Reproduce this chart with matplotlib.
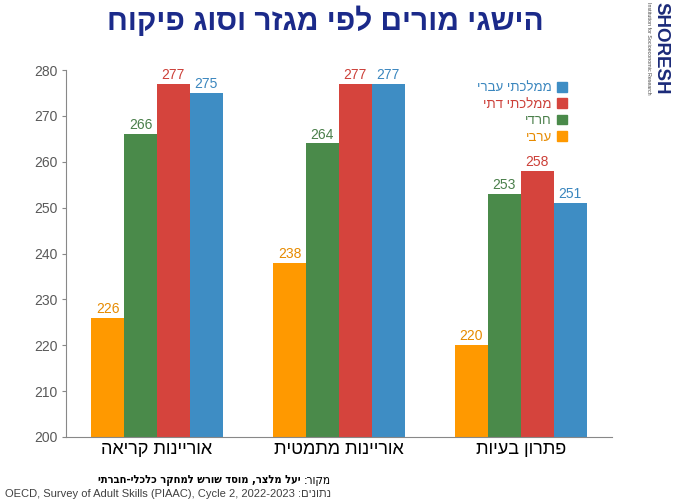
import numpy as np
import matplotlib
matplotlib.use('Agg')
import matplotlib.pyplot as plt
from matplotlib.patches import Patch

plt.rcParams['font.family'] = ['Liberation Sans', 'DejaVu Sans']

# data
categories = ['אוריינות קריאה', 'אוריינות מתמטית', 'פתרון בעיות']
series = ['ערבי', 'חרדי', 'ממלכתי דתי', 'ממלכתי עברי']
values = {
    'ערבי': [226, 238, 220],
    'חרדי': [266, 264, 253],
    'ממלכתי דתי': [277, 277, 258],
    'ממלכתי עברי': [275, 277, 251],
}
bar_colors = ['#FF9900', '#4A8A4A', '#D5443D', '#3E8DC4']
label_colors = ['#E68A00', '#4A7F4A', '#CC3F38', '#3A86BE']
y_ticks = list(range(200, 281, 10))

title = 'הישגי מורים לפי מגזר וסוג פיקוח'
source_head = 'מקור:'
source_body = 'יעל מלצר, מוסד שורש למחקר כלכלי-חברתי'
data_head = 'נתונים:'
data_body = 'OECD, Survey of Adult Skills (PIAAC), Cycle 2, 2022-2023'


def rtl(s):
    # matplotlib has no bidi support, flip hebrew to visual order
    return s[::-1]


fig = plt.figure(figsize=(6.73, 5.04), dpi=100)
ax = fig.add_axes([0.098, 0.133, 0.811, 0.728])

x = np.arange(len(categories))
w = 0.181
for i, name in enumerate(series):
    pos = x + (i - 1.5) * w
    ax.bar(pos, values[name], w, color=bar_colors[i], linewidth=0)
    for px, v in zip(pos, values[name]):
        ax.text(px, v + 0.4, str(v), ha='center', va='bottom',
                fontsize=10, color=label_colors[i])

ax.set_xlim(-0.5, 2.5)
ax.set_ylim(200, 280)
ax.set_yticks(y_ticks)
ax.set_xticks(x)
ax.set_xticklabels([rtl(c) for c in categories], fontsize=13)
ax.tick_params(axis='x', length=0, pad=3, colors='black')
ax.tick_params(axis='y', length=3, colors='#888888', labelcolor='#595959',
               labelsize=10, pad=3)
for s in ['top', 'right']:
    ax.spines[s].set_visible(False)
for s in ['left', 'bottom']:
    ax.spines[s].set_color('#888888')
    ax.spines[s].set_linewidth(0.8)

# legend, top entry is the last series
handles = [Patch(color=bar_colors[i]) for i in range(3, -1, -1)]
labels = [rtl(series[i]) for i in range(3, -1, -1)]
leg = ax.legend(handles, labels, loc='upper right', bbox_to_anchor=(0.94, 1.0),
                markerfirst=False, frameon=False, fontsize=9.5,
                handlelength=0.75, handleheight=0.75, handletextpad=0.4,
                labelspacing=0.3)
for t, i in zip(leg.get_texts(), range(3, -1, -1)):
    t.set_color(label_colors[i])

fig.text(0.483, 0.958, rtl(title), ha='center', va='center',
         fontsize=21.5, fontweight='bold', color='#1B2A8A')

# footer
t1 = fig.text(0.492, 0.046, rtl(source_head), ha='right', va='center',
              fontsize=8.5, color='black', family=['DejaVu Sans'],
              fontstretch='condensed')
ax.annotate(rtl(source_body) + ' ', xy=(0, 0.5), xycoords=t1,
            ha='right', va='center', fontsize=8, fontweight='bold',
            color='black', family=['DejaVu Sans'], fontstretch='condensed')
fig.text(0.492, 0.020, data_body + ' ' + rtl(data_head), ha='right',
         va='center', fontsize=8, color='#404040')

# logo
fig.text(0.982, 0.905, 'SHORESH', rotation=-90, ha='center', va='center',
         fontsize=13.5, fontweight='bold', color='#1B2A78')
fig.text(0.964, 0.905, 'Institution for Socioeconomic Research', rotation=-90,
         ha='center', va='center', fontsize=3.8, color='#444444')

fig.savefig('out.png', dpi=100)
